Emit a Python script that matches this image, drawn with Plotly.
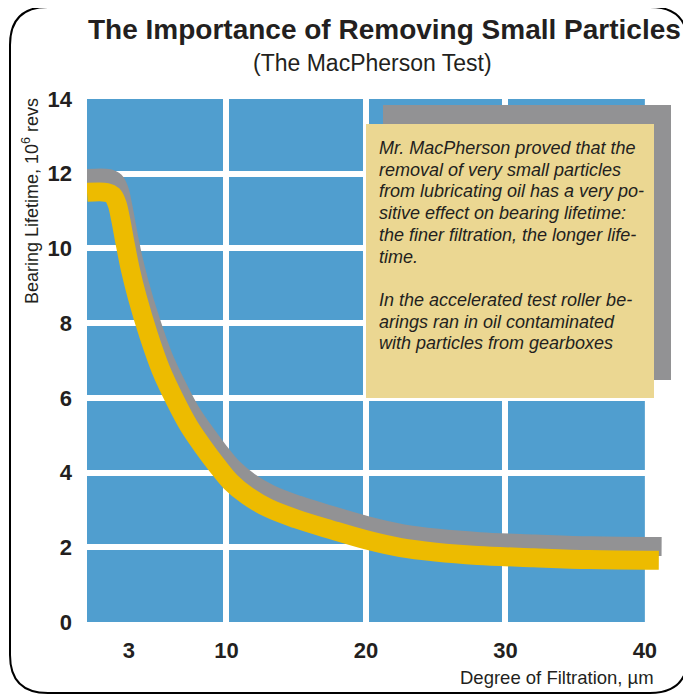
import plotly.graph_objects as go

# ---------------- data ----------------
filtration_yellow = [0, 1.4, 1.85, 2.15, 2.4, 2.7, 3.1, 3.6, 4.4, 5.3, 6.3, 7.3, 8.3, 9.3, 10.3,
                     11.5, 13.0, 15.0, 17.5, 20.0, 22.5, 25.0, 28.0, 32.0, 36.0, 41.0]
lifetime_yellow = [11.5, 11.5, 11.42, 11.2, 10.8, 10.2, 9.45, 8.7, 7.7, 6.75, 5.95, 5.25, 4.7, 4.2, 3.75,
                   3.38, 3.05, 2.76, 2.47, 2.2, 1.99, 1.87, 1.78, 1.72, 1.67, 1.65]
filtration_gray = [0, 1.55, 2.0, 2.3, 2.55, 2.85, 3.25, 3.75, 4.55, 5.45, 6.45, 7.45, 8.45, 9.45, 10.45,
                   11.65, 13.15, 15.15, 17.65, 20.15, 22.65, 25.15, 28.15, 32.15, 36.15, 41.2]
lifetime_gray = [11.87, 11.87, 11.79, 11.57, 11.17, 10.57, 9.82, 9.07, 8.07, 7.12, 6.32, 5.62, 5.07, 4.57, 4.12,
                 3.75, 3.42, 3.13, 2.84, 2.57, 2.36, 2.24, 2.15, 2.09, 2.04, 2.02]

x_tick_vals = [3, 10, 20, 30, 40]
x_tick_text = ["3", "10", "20", "30", "40"]
x_grid_vals = [10, 20, 30]
y_tick_vals = [0, 2, 4, 6, 8, 10, 12, 14]
y_grid_vals = [2, 4, 6, 8, 10, 12]

title_text = "The Importance of Removing Small Particles"
subtitle_text = "(The MacPherson Test)"
y_title = "Bearing Lifetime, 10<sup>6</sup> revs"
x_title = "Degree of Filtration, µm"
box_lines = [
    "Mr. MacPherson proved that the",
    "removal of very small particles",
    "from lubricating oil has a very po-",
    "sitive effect on bearing lifetime:",
    "the finer filtration, the longer life-",
    "time.",
    "",
    "In the accelerated test roller be-",
    "arings ran in oil contaminated",
    "with particles from gearboxes",
]

# ---------------- layout constants ----------------
OFF = 8                      # page body margin in the browser
W, H = 683, 687
L, T = 79, 91
R = W - 655
B = H - 614
PW, PH = W - L - R, H - T - B
BLUE = "#509ECF"
YELLOW = "#EDBB00"
GRAY = "#929294"
TAN = "#EBD792"
DARK = "#231F20"
FONT = "Liberation Sans, Arial, sans-serif"


def px(xs):
    """screen x pixel -> paper coordinate"""
    return (xs - OFF - L) / PW


def py(ys):
    """screen y pixel -> paper coordinate"""
    return (H - B - (ys - OFF)) / PH


fig = go.Figure()
fig.add_trace(go.Scatter(x=filtration_gray, y=lifetime_gray, mode="lines",
                         line=dict(color=GRAY, width=19, shape="spline", smoothing=1.0),
                         hoverinfo="skip", showlegend=False))
fig.add_trace(go.Scatter(x=filtration_yellow, y=lifetime_yellow, mode="lines",
                         line=dict(color=YELLOW, width=19, shape="spline", smoothing=1.0),
                         hoverinfo="skip", showlegend=False))

shapes = [
    dict(type="rect", xref="x", yref="y", x0=0, x1=40, y0=0, y1=14,
         fillcolor=BLUE, line=dict(width=0), layer="below"),
    dict(type="rect", xref="paper", yref="paper", x0=px(383), x1=px(671), y0=py(380), y1=py(105),
         fillcolor=GRAY, line=dict(width=0), layer="above"),
    dict(type="rect", xref="paper", yref="paper", x0=px(366), x1=px(654), y0=py(398), y1=py(124),
         fillcolor=TAN, line=dict(width=0), layer="above"),
]

# rounded frame
fx0, fx1, fy0, fy1, rad = 10, 688, 7, 693, 38
path = (f"M {px(fx0 + rad)},{py(fy0)} L {px(fx1 - rad)},{py(fy0)} "
        f"Q {px(fx1)},{py(fy0)} {px(fx1)},{py(fy0 + rad)} "
        f"L {px(fx1)},{py(fy1 - rad)} Q {px(fx1)},{py(fy1)} {px(fx1 - rad)},{py(fy1)} "
        f"L {px(fx0 + rad)},{py(fy1)} Q {px(fx0)},{py(fy1)} {px(fx0)},{py(fy1 - rad)} "
        f"L {px(fx0)},{py(fy0 + rad)} Q {px(fx0)},{py(fy0)} {px(fx0 + rad)},{py(fy0)} Z")
shapes.append(dict(type="path", xref="paper", yref="paper", path=path,
                   line=dict(color="black", width=2), fillcolor="rgba(0,0,0,0)", layer="above"))

annotations = [
    dict(text=f"<b>{title_text}</b>", x=px(384), y=py(29), xref="paper", yref="paper",
         xanchor="center", yanchor="middle", showarrow=False,
         font=dict(family=FONT, size=28, color=DARK)),
    dict(text=subtitle_text, x=px(372), y=py(63), xref="paper", yref="paper",
         xanchor="center", yanchor="middle", showarrow=False,
         font=dict(family=FONT, size=23, color=DARK)),
    dict(text=y_title, x=px(30), y=py(201), xref="paper", yref="paper",
         xanchor="center", yanchor="middle", textangle=-90, showarrow=False,
         font=dict(family=FONT, size=18, color=DARK)),
    dict(text=x_title, x=px(656), y=py(677), xref="paper", yref="paper",
         xanchor="right", yanchor="middle", showarrow=False,
         font=dict(family=FONT, size=18.5, color=DARK)),
]
for i, line in enumerate(box_lines):
    if not line:
        continue
    annotations.append(dict(text=f"<i>{line}</i>", x=px(377), y=py(148 + 21.7 * i),
                            xref="paper", yref="paper", xanchor="left", yanchor="middle",
                            align="left", showarrow=False,
                            font=dict(family=FONT, size=18, color=DARK)))

fig.update_layout(
    width=W, height=H,
    margin=dict(l=L, r=R, t=T, b=B, pad=0),
    paper_bgcolor="white", plot_bgcolor="white",
    shapes=shapes, annotations=annotations,
    showlegend=False,
    xaxis=dict(range=[0, 41.3], tickvals=x_tick_vals, ticktext=x_tick_text,
               showgrid=False, zeroline=False, showline=False, ticks="",
               ticklabelstandoff=13,
               tickfont=dict(family=FONT, size=22, color=DARK, weight="bold"),
               minor=dict(tickvals=x_grid_vals, showgrid=True, gridcolor="white", gridwidth=6, ticks=""),
               fixedrange=True),
    yaxis=dict(range=[0, 14], tickvals=y_tick_vals,
               showgrid=False, zeroline=False, showline=False, ticks="",
               ticklabelstandoff=14,
               tickfont=dict(family=FONT, size=22, color=DARK, weight="bold"),
               minor=dict(tickvals=y_grid_vals, showgrid=True, gridcolor="white", gridwidth=6, ticks=""),
               fixedrange=True),
)

fig.write_html("out.html")
